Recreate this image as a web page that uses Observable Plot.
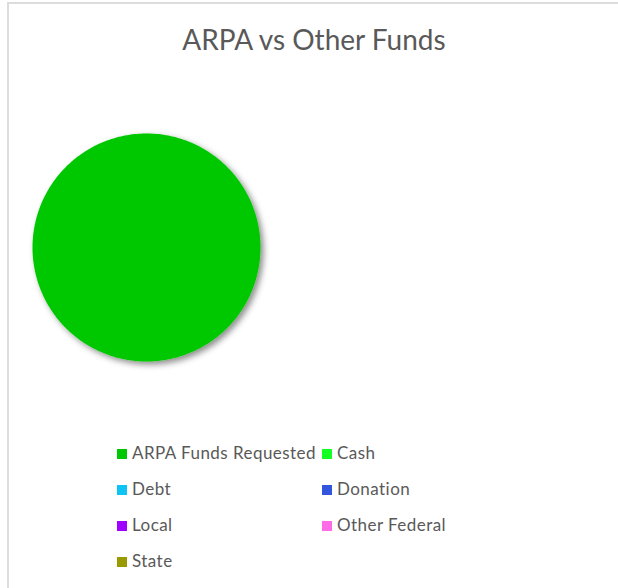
<!DOCTYPE html>
<html>
<head>
<meta charset="utf-8">
<script src="https://cdn.jsdelivr.net/npm/d3@7"></script>
<script src="https://cdn.jsdelivr.net/npm/@observablehq/plot@0.6"></script>
<style>
  html, body { margin: 0; padding: 0; background: #fff; }
  #wrap { position: relative; width: 618px; height: 588px; overflow: hidden; font-family: Lato, "Open Sans", sans-serif; color: #595959; }
  #frame { position: absolute; left: 7px; top: 2px; width: 700px; height: 700px; border-top: 2px solid #dcdcdc; border-left: 2px solid #dcdcdc; box-sizing: border-box; }
  #title { position: absolute; left: 0; width: 628px; top: 23px; text-align: center; font-size: 28px; line-height: 1.2; }
  #chart { position: absolute; left: 0; top: 0; }
  #legend { position: absolute; left: 117px; top: 441px; font-size: 17px; letter-spacing: 0.45px; }
  .item { position: absolute; white-space: nowrap; height: 24px; line-height: 24px; }
  .sw { position: absolute; left: 0; top: 8px; width: 10px; height: 10px; }
  .lab { position: absolute; left: 15px; top: 0; }
</style>
</head>
<body>
<div id="wrap">
  <div id="frame"></div>
  <div id="chart"></div>
  <div id="title">ARPA vs Other Funds</div>
  <div id="legend"></div>
</div>
<script>
const categories = ["ARPA Funds Requested", "Cash", "Debt", "Donation", "Local", "Other Federal", "State"];
const values = [100, 0, 0, 0, 0, 0, 0];
const colors = ["#00c800", "#14ff22", "#0ec4f4", "#3355dd", "#a000ff", "#ff6ae6", "#999900"];

const data = categories.map((c, i) => ({category: c, value: values[i]}));
const arcs = d3.pie().sort(null).value(d => d.value)(data);

// Build polygon outlines for each slice from the pie angles
const pts = [];
for (const a of arcs) {
  if (a.endAngle - a.startAngle <= 0) continue;
  const n = Math.max(2, Math.ceil((a.endAngle - a.startAngle) / (Math.PI / 180)));
  const full = a.endAngle - a.startAngle >= 2 * Math.PI - 1e-9;
  if (!full) pts.push({category: a.data.category, x: 0, y: 0});
  for (let k = 0; k <= n; k++) {
    const t = a.startAngle + (a.endAngle - a.startAngle) * k / n;
    pts.push({category: a.data.category, x: Math.sin(t), y: Math.cos(t)});
  }
}

const W = 618, H = 420;
const plot = Plot.plot({
  width: W,
  height: H,
  marginLeft: 32,
  marginRight: W - 260,
  marginTop: 133,
  marginBottom: H - 361,
  x: {domain: [-1, 1], axis: null},
  y: {domain: [-1, 1], axis: null},
  color: {domain: categories, range: colors},
  style: {background: "transparent", overflow: "visible"},
  marks: [
    Plot.line(pts, {x: "x", y: "y", z: "category", fill: "category", stroke: null, curve: "linear-closed"})
  ]
});

// drop shadow like the original
const ns = "http://www.w3.org/2000/svg";
const defs = document.createElementNS(ns, "defs");
defs.innerHTML = '<filter id="shadow" x="-20%" y="-20%" width="140%" height="140%"><feDropShadow dx="3" dy="3" stdDeviation="3" flood-color="#000" flood-opacity="0.45"/></filter>';
plot.insertBefore(defs, plot.firstChild);
plot.querySelectorAll("g[aria-label='line']").forEach(g => g.setAttribute("filter", "url(#shadow)"));
document.getElementById("chart").appendChild(plot);

// legend
const legend = document.getElementById("legend");
categories.forEach((c, i) => {
  const col = i % 2, row = Math.floor(i / 2);
  const it = document.createElement("div");
  it.className = "item";
  it.style.left = (col * 205) + "px";
  it.style.top = (row * 36) + "px";
  it.innerHTML = `<span class="sw" style="background:${colors[i]}"></span><span class="lab">${c}</span>`;
  legend.appendChild(it);
});
</script>
</body>
</html>
